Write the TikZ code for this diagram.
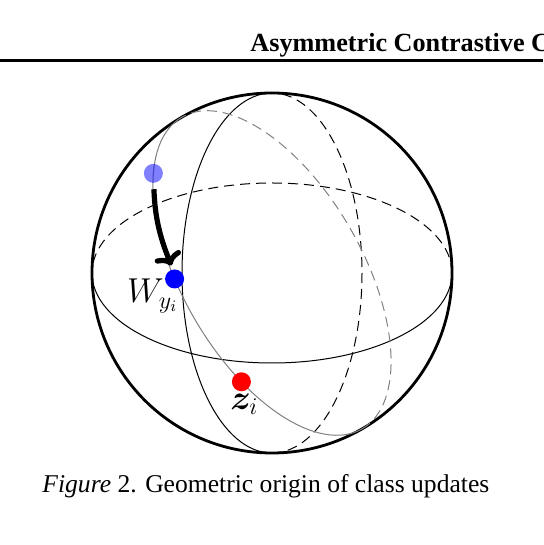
\documentclass[tikz,border=0pt]{standalone}
\usepackage{fontspec}
\setmainfont{Liberation Serif}
\usepackage{amsmath,bm}
\usetikzlibrary{arrows.meta}

\begin{document}
\begin{tikzpicture}[x=0.5pt, y=0.5pt,
		outline/.style={black, line width=1.4pt},
		front/.style={black, line width=0.5pt},
		back/.style={black, line width=0.5pt, dash pattern=on 5pt off 3pt},
		gcfront/.style={gray, line width=0.5pt},
		gcback/.style={gray, line width=0.5pt, dash pattern=on 5pt off 3pt},
		dot/.style={circle, inner sep=0pt, minimum size=9.5pt},
		update/.style={-{Computer Modern Rightarrow[length=6pt, width=14pt]}, line width=2.6pt, shorten <=3pt, shorten >=2pt},
		lbl/.style={inner sep=0pt, font=\fontsize{16.5}{19}\selectfont}]
		\useasboundingbox (0, 0) rectangle (543, 545);

		% running head
		\node[anchor=base west, inner sep=0pt, font=\fontsize{13.1}{15}\selectfont\bfseries] (head) at (250, 493) {Asymmetric Contrastive C};
		\coordinate (ruleL) at (0, 484);
		\coordinate (ruleR) at (543, 484);
		\draw[line width=1.5pt] (ruleL) -- (ruleR);

		% sphere
		\coordinate (O) at (272, 272);
		\draw[outline] (O) circle (180);

		% equator
		\draw[front] ([shift={(180:180 and 90)}]O) arc[start angle=180, end angle=360, x radius=180, y radius=90];
		\draw[back] ([shift={(0:180 and 90)}]O) arc[start angle=0, end angle=180, x radius=180, y radius=90];

		% meridian
		\draw[front] ([shift={(90:90 and 180)}]O) arc[start angle=90, end angle=270, x radius=90, y radius=180];
		\draw[back] ([shift={(-90:90 and 180)}]O) arc[start angle=-90, end angle=90, x radius=90, y radius=180];

		% great circle through both points
		\begin{scope}[shift={(O)}, rotate=120]
			\draw[gcfront] (0:180 and 90) arc[start angle=0, end angle=180, x radius=180, y radius=90];
			\draw[gcback] (180:180 and 90) arc[start angle=180, end angle=360, x radius=180, y radius=90];
			\coordinate (pold) at (36:180 and 90);
			\coordinate (pw) at (76:180 and 90);
			\coordinate (pz) at (116:180 and 90);
		\end{scope}

		\node[dot, fill=blue, fill opacity=0.5] (Wold) at (pold) {};
		\node[dot, fill=blue] (W) at (pw) {};
		\node[dot, fill=red] (z) at (pz) {};

		\draw[update] (Wold) to[out=-88, in=112] (W.100);

		\node[lbl, anchor=base east] (Wlabel) at ([shift={(4, -24)}]W.center) {$W_{y_i}$};
		\node[lbl, anchor=base] (zlabel) at ([shift={(3, -28)}]z.center) {$\bm{z}_i$};

		% caption
		\node[anchor=base west, inner sep=0pt, font=\fontsize{12.8}{15}\selectfont] (caption) at (42, 52) {\textit{Figure}~2. Geometric origin of class updates};
	\end{tikzpicture}
\end{document}
